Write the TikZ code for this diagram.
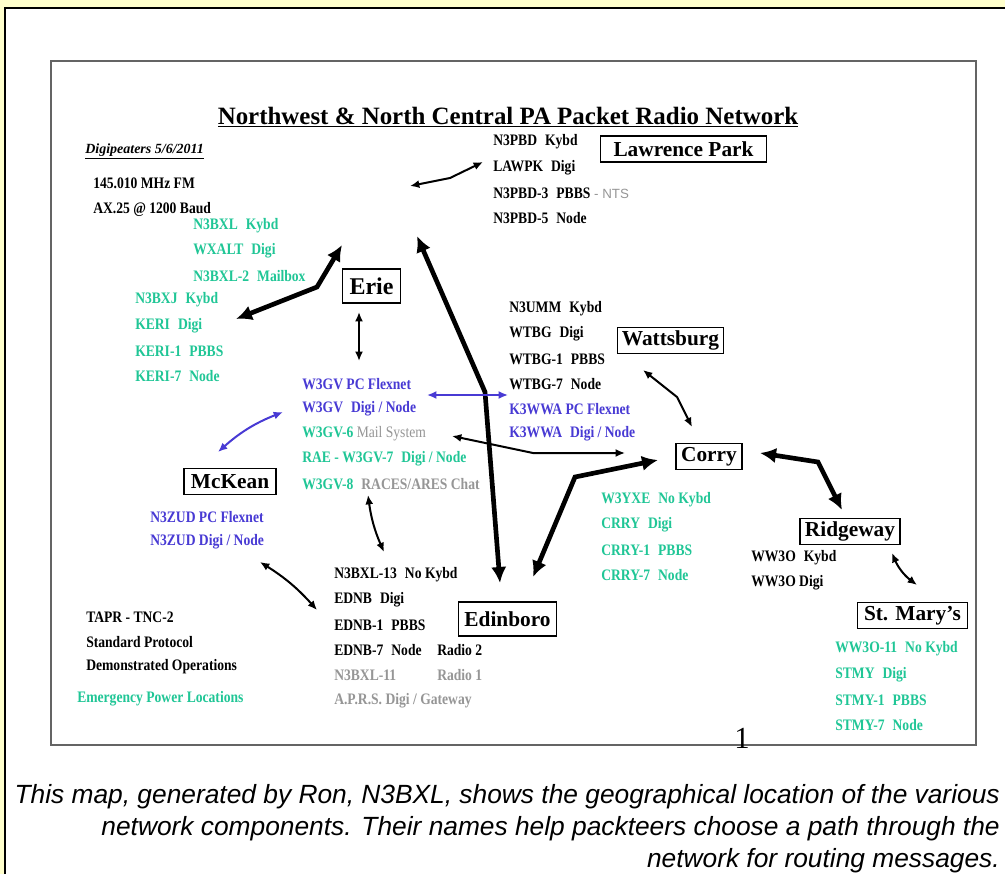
\documentclass[tikz,border=0pt]{standalone}
\usepackage{fontspec}
\setmainfont{Liberation Serif}
\newfontfamily\listfont[FakeStretch=0.85]{Liberation Serif}
\newfontfamily\capfont{Liberation Sans}
\usepackage{tikz}
\usetikzlibrary{arrows.meta}

\definecolor{paleyellow}{RGB}{255,255,204}
\definecolor{mint}{RGB}{32,198,150}
\definecolor{flexblue}{RGB}{72,58,212}
\definecolor{dimtext}{RGB}{150,150,150}
\definecolor{framegray}{RGB}{100,100,100}

\begin{document}
\begin{tikzpicture}[
    x=0.75pt, y=-0.75pt,
    town/.style={draw=black, line width=0.9pt, inner sep=0pt, font=\fontsize{16}{18}\selectfont\bfseries},
    entry/.style={anchor=west, inner sep=0pt, text=#1, font=\listfont\fontsize{12}{14}\selectfont\bfseries},
    entry/.default=black,
    link/.style={{Latex[length=7pt,width=6pt]}-{Latex[length=7pt,width=6pt]}, line width=1.5pt, #1},
    link/.default=black,
    trunk/.style={{Latex[length=12pt,width=11.5pt]}-{Latex[length=12pt,width=11.5pt]}, line width=3.5pt}
]
\useasboundingbox (0,0) rectangle (1005,874);

% === PAGE AND MAP FRAME ===
\fill[paleyellow] (0,0) rectangle (1005,874);
\fill[white] (5,8) rectangle (1005,874);
\draw[line width=1.2pt] (5,874) -- (5,8) -- (1005,8);
\draw[framegray, line width=1.3pt] (51,61) rectangle (976,745);

% === TITLE AND NOTES ===
\node (title) at (508,117) {\fontsize{18.7}{20}\selectfont\bfseries\underline{Northwest \& North Central PA Packet Radio Network}};
\node[anchor=west, inner sep=0pt] (digidate) at (85,151) {\fontsize{10.5}{12}\selectfont\bfseries\itshape\underline{Digipeaters 5/6/2011}};
\node[entry] (freq) at (93,183) {145.010 MHz FM};
\node[entry] (baud) at (93,209) {AX.25 @ 1200 Baud};

% === ERIE ===
\node[town, font=\fontsize{18}{20}\selectfont\bfseries, minimum width=43pt, minimum height=25.5pt] (erie) at (371.5,286) {Erie};
\node[entry=mint] (n3bxl) at (193,226) {N3BXL\enspace Kybd};
\node[entry=mint] (wxalt) at (193,251) {WXALT\enspace Digi};
\node[entry=mint] (n3bxl2) at (193,276) {N3BXL-2\enspace Mailbox};
\node[entry=mint] (n3bxj) at (135,300) {N3BXJ\enspace Kybd};
\node[entry=mint] (keri) at (135,326) {KERI\enspace Digi};
\node[entry=mint] (keri1) at (135,351) {KERI-1\enspace PBBS};
\node[entry=mint] (keri7) at (135,376) {KERI-7\enspace Node};

% === LAWRENCE PARK ===
\node[town, minimum width=125pt, minimum height=19.5pt] (lawpark) at (683.5,149) {Lawrence Park};
\node[entry] (n3pbd) at (493,142) {N3PBD\enspace Kybd};
\node[entry] (lawpk) at (493,168) {LAWPK\enspace Digi};
\node[entry] (n3pbd3) at (493,193) {N3PBD-3\enspace PBBS\textcolor{dimtext}{\capfont\mdseries\fontsize{10}{12}\selectfont{} - NTS}};
\node[entry] (n3pbd5) at (493,218) {N3PBD-5\enspace Node};

% === WATTSBURG ===
\node[town, minimum width=80pt, minimum height=19pt] (wattsburg) at (670.5,340.5) {Wattsburg};
\node[entry] (n3umm) at (509,309) {N3UMM\enspace Kybd};
\node[entry] (wtbg) at (509,334) {WTBG\enspace Digi};
\node[entry] (wtbg1) at (509,359) {WTBG-1\enspace PBBS};
\node[entry] (wtbg7) at (509,384) {WTBG-7\enspace Node};
\node[entry=flexblue] (k3wwapc) at (509,409) {K3WWA PC Flexnet};
\node[entry=flexblue] (k3wwadigi) at (509,434) {K3WWA\enspace Digi / Node};

% === W3GV ===
\node[entry=flexblue] (w3gvpc) at (302,384) {W3GV PC Flexnet};
\node[entry=flexblue] (w3gvdigi) at (302,409) {W3GV\enspace Digi / Node};
\node[entry=mint] (w3gv6) at (302,434) {W3GV-6 \textcolor{dimtext}{\mdseries Mail System}};
\node[entry=mint] (w3gv7) at (302,459) {RAE - W3GV-7\enspace Digi / Node};
\node[entry=mint] (w3gv8) at (302,484) {W3GV-8\enspace\textcolor{dimtext}{RACES/ARES Chat}};

% === MCKEAN ===
\node[town, minimum width=69pt, minimum height=19pt] (mckean) at (230,481.5) {McKean};
\node[entry=flexblue] (n3zudpc) at (150,517) {N3ZUD PC Flexnet};
\node[entry=flexblue] (n3zuddigi) at (150,542) {N3ZUD Digi / Node};

% === CORRY ===
\node[town, minimum width=49.5pt, minimum height=19pt] (corry) at (709,456.5) {Corry};
\node[entry=mint] (w3yxe) at (601,500) {W3YXE\enspace No Kybd};
\node[entry=mint] (crry) at (601,525) {CRRY\enspace Digi};
\node[entry=mint] (crry1) at (601,550) {CRRY-1\enspace PBBS};
\node[entry=mint] (crry7) at (601,575) {CRRY-7\enspace Node};

% === RIDGEWAY ===
\node[town, minimum width=75pt, minimum height=19pt] (ridgeway) at (850,531.5) {Ridgeway};
\node[entry] (ww3o) at (751,558) {WW3O\enspace Kybd};
\node[entry] (ww3odigi) at (751,583) {WW3O Digi};

% === ST. MARY'S ===
\node[town, minimum width=82pt, minimum height=19pt] (stmarys) at (912.5,615.5) {St. Mary’s};
\node[entry=mint] (ww3o11) at (835,649) {WW3O-11\enspace No Kybd};
\node[entry=mint] (stmy) at (835,675) {STMY\enspace Digi};
\node[entry=mint] (stmy1) at (835,700) {STMY-1\enspace PBBS};
\node[entry=mint] (stmy7) at (835,725) {STMY-7\enspace Node};

% === EDINBORO ===
\node[town, minimum width=73pt, minimum height=25.5pt] (edinboro) at (507.5,619) {Edinboro};
\node[entry] (n3bxl13) at (334,575) {N3BXL-13\enspace No Kybd};
\node[entry] (ednb) at (334,600) {EDNB\enspace Digi};
\node[entry] (ednb1) at (334,625) {EDNB-1\enspace PBBS};
\node[entry] (ednb7) at (334,650) {EDNB-7\enspace Node};
\node[entry] (radio2) at (437,650) {Radio 2};
\node[entry=dimtext] (n3bxl11) at (334,675) {N3BXL-11};
\node[entry=dimtext] (radio1) at (437,675) {Radio 1};
\node[entry=dimtext] (aprs) at (334,701) {A.P.R.S. Digi / Gateway};

% === LEGEND ===
\node[entry] (tapr) at (86,617) {TAPR - TNC-2};
\node[entry] (stdproto) at (86,642) {Standard Protocol};
\node[entry] (demo) at (86,667) {Demonstrated Operations};
\node[entry=mint] (emerg) at (77,699) {Emergency Power Locations};

% === ARROW ENDS ===
\coordinate (lp-a) at (410,186); \coordinate (lp-m) at (450,178); \coordinate (lp-b) at (483,162);
\coordinate (er-a) at (236,319); \coordinate (er-m) at (317,287); \coordinate (er-b) at (342,245);
\coordinate (ev-a) at (359,312); \coordinate (ev-b) at (359,361);
\coordinate (ln-a) at (417,236); \coordinate (ln-m) at (485,392); \coordinate (ln-b) at (500,583);
\coordinate (fx-a) at (427,395); \coordinate (fx-b) at (508,395);
\coordinate (ml-a) at (452,436); \coordinate (ml-m) at (533,453); \coordinate (ml-b) at (625,453);
\coordinate (ec-a) at (533,577); \coordinate (ec-m) at (575,477); \coordinate (ec-b) at (658,460);
\coordinate (wc-a) at (643,370); \coordinate (wc-m) at (677,397); \coordinate (wc-b) at (692,427);
\coordinate (cr-a) at (760,453); \coordinate (cr-m) at (818,462); \coordinate (cr-b) at (842,510);
\coordinate (rs-a) at (892,553); \coordinate (rs-b) at (917,585);
\coordinate (mk-a) at (218,452); \coordinate (mk-b) at (283,412);
\coordinate (ge-a) at (368,495); \coordinate (ge-b) at (384,552);
\coordinate (ze-a) at (260,562); \coordinate (ze-b) at (317,610);

% === ARROWS ===
\draw[link] (lp-a) -- (lp-m) -- (lp-b);
\draw[trunk] (er-a) -- (er-m) -- (er-b);
\draw[link] (ev-a) -- (ev-b);
\draw[trunk] (ln-a) -- (ln-m) -- (ln-b);
\draw[link=flexblue] (fx-a) -- (fx-b);
\draw[link] (ml-a) -- (ml-m) -- (ml-b);
\draw[trunk] (ec-a) -- (ec-m) -- (ec-b);
\draw[link] (wc-a) -- (wc-m) -- (wc-b);
\draw[trunk] (cr-a) -- (cr-m) -- (cr-b);
\draw[link] (rs-a) to[bend right=15] (rs-b);
\draw[link=flexblue] (mk-a) to[bend left=10] (mk-b);
\draw[link] (ge-a) to[bend right=8] (ge-b);
\draw[link] (ze-a) to[bend left=8] (ze-b);

% page number and caption
\node (pagenum) at (742,738) {\fontsize{23}{24}\selectfont 1};
\node[anchor=north east, align=right, inner sep=0pt, font=\capfont\itshape\fontsize{19.75}{24}\selectfont] (caption) at (1000,784)
  {This map, generated by Ron, N3BXL, shows the geographical location of the various\\
   network components. Their names help packteers choose a path through the\\
   network for routing messages.};

\end{tikzpicture}
\end{document}
